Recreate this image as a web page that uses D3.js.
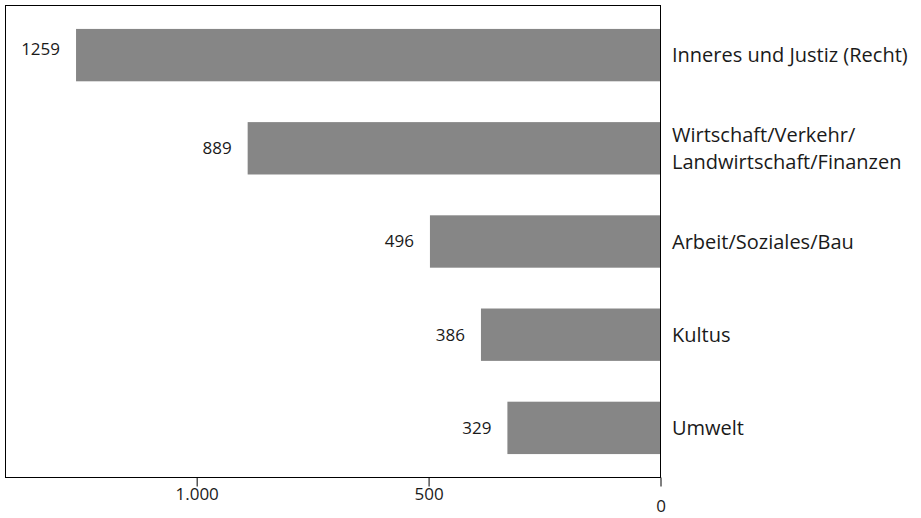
<!DOCTYPE html>
<html><head><meta charset="utf-8">
<script src="https://cdn.jsdelivr.net/npm/d3@7"></script>
<style>body{margin:0;background:#fff}svg{display:block}text{font-family:"Open Sans",sans-serif;fill:#1a1a1a}</style>
</head><body><svg id="c" width="921" height="518"></svg>
<script>
const categories = ["Inneres und Justiz (Recht)", "Wirtschaft/Verkehr/\nLandwirtschaft/Finanzen", "Arbeit/Soziales/Bau", "Kultus", "Umwelt"];
const values = [1259, 889, 496, 386, 329];
const tickValues = [1000, 500, 0];
const tickLabels = ["1.000", "500", "0"];

(function() {
const svg = d3.select("#c");
const mLeft = 6, mRight = 660, mTop = 6, mBottom = 477;
const x = d3.scaleLinear().domain([0, 1410]).range([mRight, mLeft]);
const y = d3.scaleBand().domain(categories).range([mTop, mBottom]).paddingInner(0.438).paddingOuter(0.246);

svg.append("g").selectAll("rect").data(values).join("rect")
  .attr("x", d => x(d)).attr("width", d => x(0) - x(d))
  .attr("y", (d, i) => y(categories[i])).attr("height", y.bandwidth())
  .attr("fill", "#868686");

svg.append("g").selectAll("text").data(values).join("text")
  .attr("x", d => x(d) - 16).attr("y", (d, i) => y(categories[i]) + y.bandwidth() / 2 - (i === 0 ? 6 : 0))
  .attr("dy", "0.35em").attr("text-anchor", "end").attr("font-size", 17)
  .text(d => d);

const cl = svg.append("g").selectAll("text").data(categories).join("text")
  .attr("font-size", 20).attr("x", mRight + 12)
  .attr("y", d => y(d) + y.bandwidth() / 2);
cl.each(function(d) {
  const lines = d.split("\n");
  const t = d3.select(this);
  lines.forEach((l, j) => {
    t.append("tspan").attr("x", mRight + 12)
      .attr("dy", j === 0 ? (0.35 - (lines.length - 1) * 0.675) + "em" : "1.35em")
      .text(l);
  });
});

svg.append("rect").attr("x", mLeft - 0.5).attr("y", mTop - 0.5)
  .attr("width", mRight - mLeft + 1).attr("height", mBottom - mTop + 1)
  .attr("fill", "none").attr("stroke", "#000").attr("stroke-width", 1);

const ax = svg.append("g").attr("transform", `translate(0.5,${mBottom + 0.5})`)
  .call(d3.axisBottom(x).tickValues(tickValues).tickSize(9).tickFormat((d, i) => tickLabels[i]));
ax.select(".domain").remove();
ax.selectAll("line").attr("stroke", "#000");
ax.selectAll("text").attr("font-size", 17).attr("fill", "#1a1a1a")
  .attr("font-family", "'Open Sans',sans-serif")
  .attr("dy", d => d === 0 ? "1.3em" : "0.6em");
})();
</script></body></html>
